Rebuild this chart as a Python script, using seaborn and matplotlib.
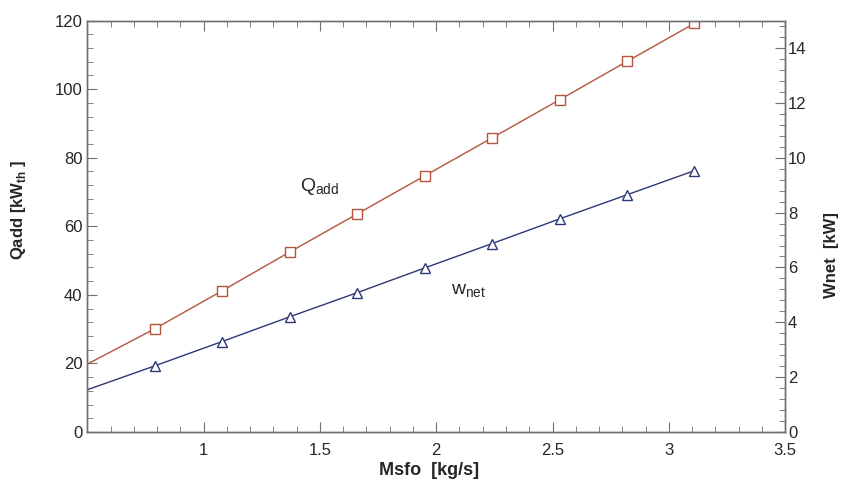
import matplotlib
matplotlib.use("Agg")
import matplotlib.pyplot as plt
import seaborn as sns
import pandas as pd
from matplotlib.ticker import MultipleLocator

# data
msfo = [0.50, 0.79, 1.08, 1.37, 1.66, 1.95, 2.24, 2.53, 2.82, 3.11]
q_add = [19.8, 30.1, 41.2, 52.5, 63.6, 74.7, 85.8, 96.9, 108.1, 119.2]
w_net = [1.54, 2.41, 3.30, 4.20, 5.08, 5.98, 6.87, 7.77, 8.65, 9.53]

df = pd.DataFrame({'Msfo': msfo, 'Qadd': q_add, 'Wnet': w_net})

sns.set_style('white')
plt.rcParams['font.family'] = ['Liberation Sans', 'DejaVu Sans']
plt.rcParams['mathtext.fontset'] = 'custom'
plt.rcParams['mathtext.rm'] = 'Liberation Sans'
plt.rcParams['mathtext.bf'] = 'Liberation Sans:bold'

q_color = '#b5543f'
w_color = '#2c3878'
spine_color = '#707070'

fig, ax = plt.subplots(figsize=(8.47, 4.8), dpi=100)
ax2 = ax.twinx()

marks = list(range(1, len(msfo)))
sns.lineplot(data=df, x='Msfo', y='Qadd', ax=ax, color=q_color, lw=1.0,
             marker='s', markersize=7, markerfacecolor='white',
             markeredgecolor=q_color, markeredgewidth=1.0, markevery=marks)
sns.lineplot(data=df, x='Msfo', y='Wnet', ax=ax2, color=w_color, lw=1.0,
             marker='^', markersize=7, markerfacecolor='white',
             markeredgecolor=w_color, markeredgewidth=1.0, markevery=marks)

ax.set_xlim(0.5, 3.5)
ax.set_ylim(0, 120)
ax2.set_ylim(0, 15)

ax.set_xticks([1, 1.5, 2, 2.5, 3, 3.5])
ax.set_xticklabels(['1', '1.5', '2', '2.5', '3', '3.5'])
ax.xaxis.set_minor_locator(MultipleLocator(0.1))
ax.yaxis.set_major_locator(MultipleLocator(20))
ax.yaxis.set_minor_locator(MultipleLocator(4))
ax2.set_yticks([0, 2, 4, 6, 8, 10, 12, 14])
ax2.yaxis.set_minor_locator(MultipleLocator(0.4))

ax.tick_params(axis='x', which='both', direction='in', top=True, bottom=True,
               color=spine_color, labelsize=12, pad=8)
ax.tick_params(axis='x', which='major', length=7)
ax.tick_params(axis='x', which='minor', length=4)
ax.tick_params(axis='y', which='both', direction='in', left=True, right=False,
               color=spine_color, labelsize=12)
ax.tick_params(axis='y', which='major', length=7)
ax.tick_params(axis='y', which='minor', length=4)
ax2.tick_params(axis='y', which='both', direction='in', right=True, left=False,
                color=spine_color, labelsize=12, pad=2)
ax2.tick_params(axis='y', which='major', length=7)
ax2.tick_params(axis='y', which='minor', length=4)

for a in (ax, ax2):
    for s in a.spines.values():
        s.set_color(spine_color)
        s.set_linewidth(1.0)

ax.set_xlabel('Msfo  [kg/s]', fontsize=13, fontweight='bold')
ax.xaxis.set_label_coords(0.49, -0.072)
ax.set_ylabel(r'Qadd [kW$_{\mathbf{th}}$ ]', fontsize=12, fontweight='bold')
ax.yaxis.set_label_coords(-0.085, 0.54)
ax2.set_ylabel('Wnet  [kW]', fontsize=12, fontweight='bold')
ax2.yaxis.set_label_coords(1.056, 0.43)

ax.text(1.50, 71.5, r'Q$_{\mathrm{add}}$', fontsize=14, ha='center', va='center')
ax.text(2.14, 41, r'w$_{\mathrm{net}}$', fontsize=14, ha='center', va='center')

fig.subplots_adjust(left=0.103, right=0.927, top=0.957, bottom=0.1)
fig.savefig('out.png', dpi=100)
plt.close(fig)
